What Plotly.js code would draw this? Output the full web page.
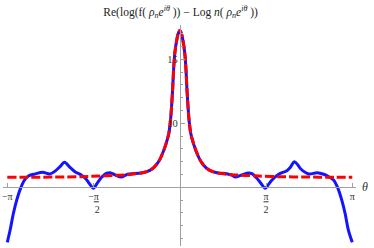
<!DOCTYPE html>
<html><head><meta charset="utf-8">
<script src="https://cdn.plot.ly/plotly-3.0.1.min.js"></script>
<style>html,body{margin:0;padding:0;background:#fff}#c{width:374px;height:248px}</style>
</head><body><div id="c"></div>
<script>
// Blue: Re(log f - Log n)
const blueX = [-3.1416,-3.09,-3.03,-2.97,-2.90,-2.83,-2.75,-2.63,-2.50,-2.36,-2.26,-2.18,-2.10,-2.00,-1.91,-1.79,-1.70,-1.64,-1.575,-1.50,-1.42,-1.34,-1.27,-1.18,-1.06,-0.95,-0.85,
  -0.70,-0.60,-0.50,-0.42,-0.36,-0.30,-0.27,-0.24,-0.20,-0.17,-0.15,-0.13,-0.11,-0.09,-0.06,-0.03,0,
  0.03,0.06,0.09,0.11,0.13,0.15,0.17,0.20,0.24,0.27,0.30,0.36,0.42,0.50,0.60,0.70,
  0.85,0.95,1.01,1.12,1.24,1.32,1.40,1.48,1.555,1.62,1.68,1.80,1.95,2.02,2.085,2.15,2.20,2.35,2.50,2.62,2.70,2.80,2.88,2.95,3.01,3.07,3.1416];
const blueY = [0.70,1.66,2.97,4.0,4.92,5.55,5.90,6.05,6.17,6.05,6.30,6.62,6.95,6.56,6.22,5.95,5.60,5.25,4.92,5.35,5.80,6.08,6.14,5.97,5.80,6.03,6.06,
  6.12,6.22,6.45,6.80,7.20,7.80,8.15,8.55,9.20,10.2,11.3,12.7,14.4,15.5,16.4,17.0,17.25,
  17.0,16.4,15.5,14.4,12.7,11.3,10.2,9.20,8.55,8.15,7.80,7.20,6.80,6.45,6.22,6.12,
  6.06,5.95,5.80,5.95,6.12,6.05,5.72,5.30,4.92,5.25,5.57,6.02,6.30,6.60,7.0,6.75,6.45,6.04,6.14,6.02,5.85,5.57,4.92,4.0,2.97,1.66,0.70];
// Red dashed: smooth approximation
const redX = [-3.1416,-2.8,-2.3,-1.8,-1.45,-1.2,-1.0,-0.9,-0.8,-0.7,-0.60,-0.50,-0.42,-0.36,-0.30,-0.27,-0.24,-0.20,-0.17,-0.15,-0.13,-0.11,-0.09,-0.06,-0.03,0,
  0.03,0.06,0.09,0.11,0.13,0.15,0.17,0.20,0.24,0.27,0.30,0.36,0.42,0.50,0.60,0.7,0.8,0.9,1.0,1.2,1.45,1.8,2.3,2.8,3.1416];
const redY = [5.78,5.79,5.80,5.83,5.88,5.93,5.97,6.0,6.05,6.12,6.22,6.45,6.80,7.20,7.80,8.15,8.55,9.20,10.2,11.3,12.7,14.4,15.5,16.4,17.0,17.25,
  17.0,16.4,15.5,14.4,12.7,11.3,10.2,9.20,8.55,8.15,7.80,7.20,6.80,6.45,6.22,6.12,6.05,6.0,5.97,5.93,5.88,5.83,5.80,5.79,5.78];
const xTickVals = [-Math.PI, -Math.PI/2, Math.PI/2, Math.PI];
const xTickText = ['\u2212\u03c0', '\u2212<u>\u03c0</u><br>\u2002 2', '<u>\u03c0</u><br>2', '\u03c0'];
const yTickVals = [5, 10, 15];
const yTickText = ['', '10', '15'];

const xRange = [-3.2198, 3.209];
const yRange = [0.414, 17.68];
const axisGray = 'rgb(160,160,160)';
const serif = 'Liberation Serif, Times New Roman, serif';

const traces = [
  {x: blueX, y: blueY, mode: 'lines', line: {color: 'rgb(20,20,255)', width: 3, shape: 'spline', smoothing: 0.9}, hoverinfo: 'skip'},
  {x: redX, y: redY, mode: 'lines', line: {color: 'rgb(255,0,0)', width: 3, dash: '9px,3px', shape: 'spline', smoothing: 0.9}, hoverinfo: 'skip'}
];
const layout = {
  width: 374, height: 248,
  margin: {l: 3, r: 18, t: 25, b: 2},
  paper_bgcolor: '#fff', plot_bgcolor: '#fff',
  showlegend: false,
  title: {text: 'Re(log(f( <i>\u03c1<sub>n</sub>e<sup>i\u03b8</sup></i> )) \u2212 Log <i>n</i>( <i>\u03c1<sub>n</sub>e<sup>i\u03b8</sup></i> ))',
          font: {family: serif, size: 11.5, color: '#222'}, x: 0.483, xanchor: 'center', y: 0.952, yanchor: 'middle'},
  xaxis: {range: xRange, anchor: 'free', position: (5 - yRange[0]) / (yRange[1] - yRange[0]),
          showline: true, linecolor: axisGray, linewidth: 1, showgrid: false, zeroline: false,
          tickmode: 'array', tickvals: xTickVals, ticktext: xTickText, ticks: 'inside', ticklen: 4, tickcolor: axisGray,
          tickfont: {family: serif, size: 10, color: '#333'}},
  yaxis: {range: yRange, anchor: 'free', position: (0 - xRange[0]) / (xRange[1] - xRange[0]),
          showline: true, linecolor: axisGray, linewidth: 1, showgrid: false, zeroline: false,
          tickmode: 'array', tickvals: yTickVals, ticktext: yTickText, ticks: 'inside', ticklen: 4, tickcolor: axisGray,
          tickfont: {family: serif, size: 10.5, color: '#333'},
          minor: {dtick: 1, tick0: 0, ticks: 'inside', ticklen: 2.5, tickcolor: axisGray, showgrid: false}},
  annotations: [{text: '<i>\u03b8</i>', xref: 'paper', x: 1.01, xanchor: 'left', yref: 'y', y: 5, yanchor: 'middle',
                 showarrow: false, font: {family: serif, size: 12, color: '#333'}}]
};
Plotly.newPlot('c', traces, layout, {staticPlot: true});
</script></body></html>
